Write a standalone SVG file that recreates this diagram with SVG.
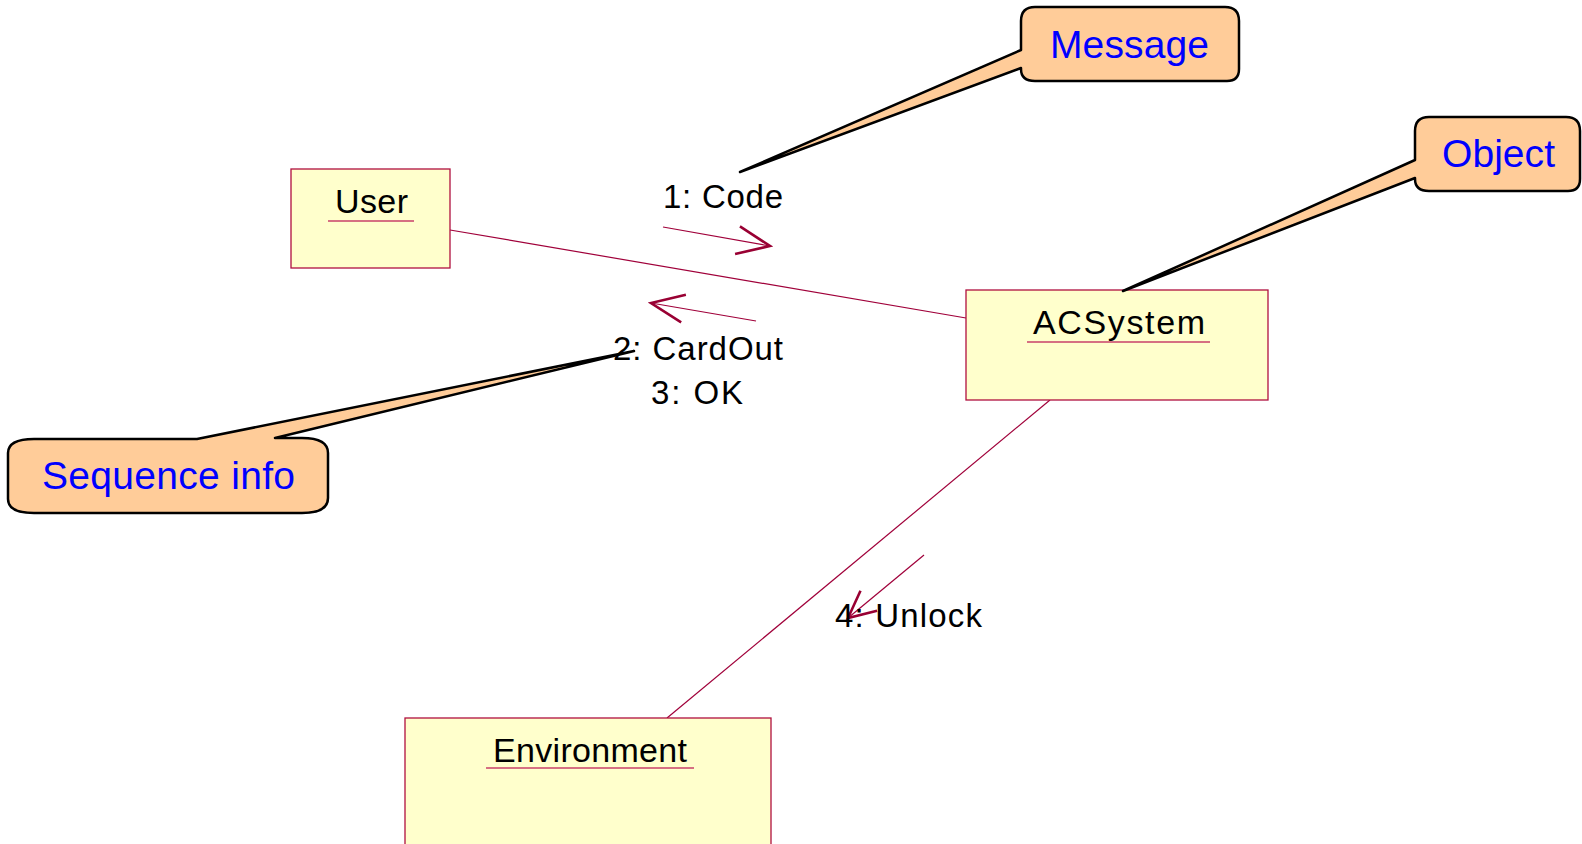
<svg xmlns="http://www.w3.org/2000/svg" width="1582" height="844" viewBox="0 0 1582 844">
<style>
.box{fill:#FFFFCC;stroke:#B0103F;stroke-width:1.3}
.uline{stroke:#C8406A;stroke-width:1.5}
.name{font-family:"Liberation Sans",Arial,sans-serif;font-size:34px;fill:#000}
.msg{font-family:"Liberation Sans",Arial,sans-serif;font-size:33px;fill:#000}
.assoc{stroke:#A0003A;stroke-width:1.2;fill:none}
.call{fill:#FFCC99;stroke:#000;stroke-width:2.5;stroke-linejoin:round}
.ctext{font-family:"Liberation Sans",Arial,sans-serif;font-size:39px;fill:#0000FF}
</style>
<defs>
<marker id="arr" markerUnits="userSpaceOnUse" markerWidth="40" markerHeight="32" viewBox="-36 -16 40 32" refX="0" refY="0" orient="auto" overflow="visible">
<path d="M-33,-14 L0,0 L-33,14" fill="none" stroke="#990033" stroke-width="2.6"/>
</marker>
<marker id="arr2" markerUnits="userSpaceOnUse" markerWidth="40" markerHeight="32" viewBox="-36 -16 40 32" refX="0" refY="0" orient="auto" overflow="visible">
<path d="M-27,-13 L0,0 L-27,13" fill="none" stroke="#990033" stroke-width="2.6"/>
</marker>
</defs>
<rect width="1582" height="844" fill="#fff"/>
<g id="connectors">
<line class="assoc" x1="450" y1="230" x2="966" y2="318"/>
<line class="assoc" x1="1050" y1="400" x2="667" y2="718"/>
<line class="assoc" x1="663" y1="227" x2="770" y2="246" marker-end="url(#arr)"/>
<line class="assoc" x1="756" y1="321" x2="651" y2="303" marker-end="url(#arr)"/>
<line class="assoc" x1="924" y1="555" x2="848" y2="618" marker-end="url(#arr2)"/>
<text class="msg" x="663" y="208" textLength="120" lengthAdjust="spacing">1: Code</text>
<text class="msg" x="613" y="360" textLength="170" lengthAdjust="spacing">2: CardOut</text>
<text class="msg" x="651" y="404" textLength="92" lengthAdjust="spacing">3: OK</text>
<text class="msg" x="835" y="627" textLength="147" lengthAdjust="spacing">4: Unlock</text>
</g>
<g id="user">
<rect class="box" x="291" y="169" width="159" height="99"/>
<text class="name" x="335" y="213" textLength="73" lengthAdjust="spacing">User</text>
<line class="uline" x1="328" y1="221" x2="414" y2="221"/>
</g>
<g id="acsystem">
<rect class="box" x="966" y="290" width="302" height="110"/>
<text class="name" x="1033" y="334" textLength="172" lengthAdjust="spacing">ACSystem</text>
<line class="uline" x1="1027" y1="342" x2="1210" y2="342"/>
</g>
<g id="environment">
<rect class="box" x="405" y="718" width="366" height="150"/>
<text class="name" x="493" y="762" textLength="194" lengthAdjust="spacing">Environment</text>
<line class="uline" x1="486" y1="768" x2="694" y2="768"/>
</g>
<g id="callout-message">
<path class="call" d="M1035,7 H1225 Q1239,7 1239,21 V69 Q1239,81 1227,81 H1035 Q1021,81 1021,69 V68 L740,172 L1021,50 V21 Q1021,7 1035,7 Z"/>
<text class="ctext" x="1050" y="58" textLength="159" lengthAdjust="spacing">Message</text>
</g>
<g id="callout-object">
<path class="call" d="M1429,117 H1566 Q1580,117 1580,131 V179 Q1580,191 1568,191 H1429 Q1415,191 1415,179 V178 L1123,291 L1415,160 V131 Q1415,117 1429,117 Z"/>
<text class="ctext" x="1442" y="167" textLength="113" lengthAdjust="spacing">Object</text>
</g>
<g id="callout-sequence">
<path class="call" d="M34,439 H197 L634,351 L275,438 H302 Q328,438 328,453 V498 Q328,513 302,513 H34 Q8,513 8,499 V453 Q8,439 34,439 Z"/>
<text class="ctext" x="42" y="489" textLength="253" lengthAdjust="spacing">Sequence info</text>
</g>
</svg>
